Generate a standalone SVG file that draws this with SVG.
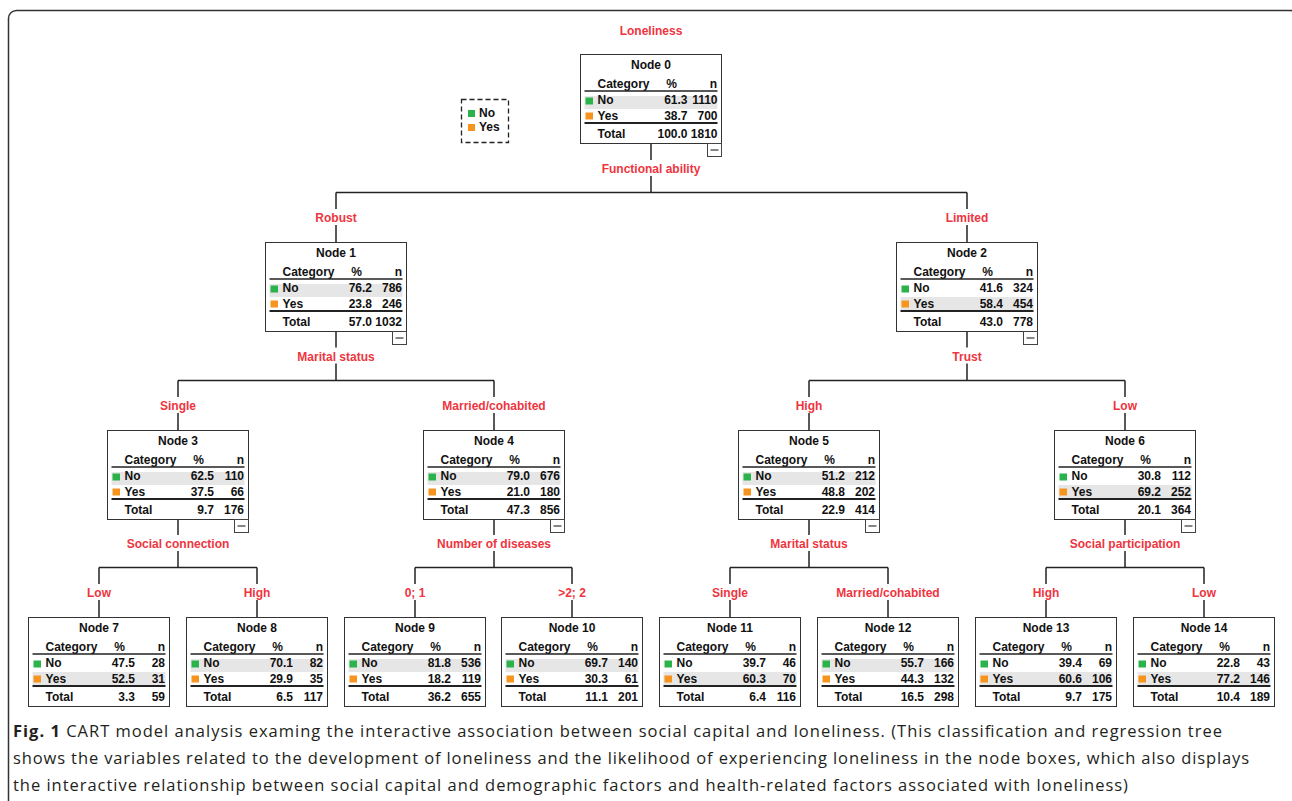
<svg xmlns="http://www.w3.org/2000/svg" width="1292" height="801" viewBox="0 0 1292 801">
<style>
text{font-family:"Liberation Sans",Arial,sans-serif;font-weight:bold;font-size:12px;fill:#111}
.lab{fill:#ee3540;text-anchor:middle}
.box{fill:#fff;stroke:#333;stroke-width:1}
.hl{fill:#e6e6e6}
.g{fill:#2bb34b}
.o{fill:#f7941d}
.hr{stroke:#222;stroke-width:1.3}
.hr2{stroke:#222;stroke-width:2}
.mb{fill:#fff;stroke:#444;stroke-width:1}
.mbl{stroke:#444;stroke-width:1.3}
.c{text-anchor:middle}
.e{text-anchor:end}
.conn line{stroke:#222;stroke-width:1.5}
.cap{font-family:"Open Sans","Noto Sans",sans-serif;font-weight:normal;font-size:16.5px;fill:#231f20}
</style>
<defs>
<g id="frame">
<rect class="box" width="141" height="89"/>
<text x="17" y="33">Category</text>
<text class="c" x="91" y="33">%</text>
<text class="e" x="136.5" y="33">n</text>
<line class="hr" x1="4" y1="36.5" x2="137" y2="36.5"/>
<line class="hr2" x1="4" y1="68.5" x2="137" y2="68.5"/>
<text x="17" y="83.5">Total</text>
</g>
<g id="minus">
<rect class="mb" x="127" y="89" width="14" height="13"/>
<line class="mbl" x1="130" y1="95.5" x2="138" y2="95.5"/>
</g>
<g id="sq">
<rect class="g" x="5" y="43" width="7.5" height="7"/>
<rect class="o" x="5" y="58" width="7.5" height="7"/>
<text x="17" y="49.5">No</text>
<text x="17" y="65.5">Yes</text>
</g>
</defs>

<rect x="8.5" y="10.5" width="1290" height="820" rx="8" fill="#fff" stroke="#333" stroke-width="1.5"/>

<g id="legend">
<rect x="461.5" y="99.5" width="47" height="43" fill="none" stroke="#222" stroke-width="1.3" stroke-dasharray="5,3"/>
<rect class="g" x="468" y="110" width="7" height="7"/>
<text x="479" y="117">No</text>
<rect class="o" x="468" y="124" width="7" height="7"/>
<text x="479" y="131">Yes</text>
</g>

<g class="conn" id="connectors">
<line x1="651" y1="143.5" x2="651" y2="160"/>
<line x1="651" y1="176" x2="651" y2="192.5"/>
<line x1="336" y1="192.5" x2="967" y2="192.5"/>
<line x1="336" y1="192.5" x2="336" y2="209"/>
<line x1="336" y1="225" x2="336" y2="242.5"/>
<line x1="967" y1="192.5" x2="967" y2="209"/>
<line x1="967" y1="225" x2="967" y2="242.5"/>

<line x1="336" y1="331.5" x2="336" y2="347.5"/>
<line x1="336" y1="363.5" x2="336" y2="380.5"/>
<line x1="178" y1="380.5" x2="494" y2="380.5"/>
<line x1="967" y1="331.5" x2="967" y2="347.5"/>
<line x1="967" y1="363.5" x2="967" y2="380.5"/>
<line x1="809" y1="380.5" x2="1125" y2="380.5"/>
<line x1="178" y1="380.5" x2="178" y2="397"/><line x1="178" y1="413" x2="178" y2="430.5"/>
<line x1="494" y1="380.5" x2="494" y2="397"/><line x1="494" y1="413" x2="494" y2="430.5"/>
<line x1="809" y1="380.5" x2="809" y2="397"/><line x1="809" y1="413" x2="809" y2="430.5"/>
<line x1="1125" y1="380.5" x2="1125" y2="397"/><line x1="1125" y1="413" x2="1125" y2="430.5"/>

<line x1="178" y1="519.5" x2="178" y2="535"/><line x1="178" y1="551" x2="178" y2="567.5"/>
<line x1="494" y1="519.5" x2="494" y2="535"/><line x1="494" y1="551" x2="494" y2="567.5"/>
<line x1="809" y1="519.5" x2="809" y2="535"/><line x1="809" y1="551" x2="809" y2="567.5"/>
<line x1="1125" y1="519.5" x2="1125" y2="535"/><line x1="1125" y1="551" x2="1125" y2="567.5"/>
<line x1="99" y1="567.5" x2="257" y2="567.5"/>
<line x1="415" y1="567.5" x2="572" y2="567.5"/>
<line x1="730" y1="567.5" x2="888" y2="567.5"/>
<line x1="1046" y1="567.5" x2="1204" y2="567.5"/>
<line x1="99" y1="567.5" x2="99" y2="584"/><line x1="99" y1="600" x2="99" y2="617.5"/>
<line x1="257" y1="567.5" x2="257" y2="584"/><line x1="257" y1="600" x2="257" y2="617.5"/>
<line x1="415" y1="567.5" x2="415" y2="584"/><line x1="415" y1="600" x2="415" y2="617.5"/>
<line x1="572" y1="567.5" x2="572" y2="584"/><line x1="572" y1="600" x2="572" y2="617.5"/>
<line x1="730" y1="567.5" x2="730" y2="584"/><line x1="730" y1="600" x2="730" y2="617.5"/>
<line x1="888" y1="567.5" x2="888" y2="584"/><line x1="888" y1="600" x2="888" y2="617.5"/>
<line x1="1046" y1="567.5" x2="1046" y2="584"/><line x1="1046" y1="600" x2="1046" y2="617.5"/>
<line x1="1204" y1="567.5" x2="1204" y2="584"/><line x1="1204" y1="600" x2="1204" y2="617.5"/>
</g>

<g id="labels">
<text class="lab" x="651" y="35">Loneliness</text>
<text class="lab" x="651" y="173">Functional ability</text>
<text class="lab" x="336" y="222">Robust</text>
<text class="lab" x="967" y="222">Limited</text>
<text class="lab" x="336" y="360.5">Marital status</text>
<text class="lab" x="967" y="360.5">Trust</text>
<text class="lab" x="178" y="410">Single</text>
<text class="lab" x="494" y="410">Married/cohabited</text>
<text class="lab" x="809" y="410">High</text>
<text class="lab" x="1125" y="410">Low</text>
<text class="lab" x="178" y="548">Social connection</text>
<text class="lab" x="494" y="548">Number of diseases</text>
<text class="lab" x="809" y="548">Marital status</text>
<text class="lab" x="1125" y="548">Social participation</text>
<text class="lab" x="99" y="597">Low</text>
<text class="lab" x="257" y="597">High</text>
<text class="lab" x="415" y="597">0; 1</text>
<text class="lab" x="572" y="597">&gt;2; 2</text>
<text class="lab" x="730" y="597">Single</text>
<text class="lab" x="888" y="597">Married/cohabited</text>
<text class="lab" x="1046" y="597">High</text>
<text class="lab" x="1204" y="597">Low</text>
</g>

<g id="node0" transform="translate(580.5,54.5)">
<use href="#frame"/><rect class="hl" x="4" y="41.5" width="133" height="13"/><use href="#sq"/><use href="#minus"/>
<text class="c" x="70.5" y="14.5">Node 0</text>
<text class="e" x="107" y="49.5">61.3</text><text class="e" x="137" y="49.5">1110</text>
<text class="e" x="107" y="65.5">38.7</text><text class="e" x="137" y="65.5">700</text>
<text class="e" x="107" y="83.5">100.0</text><text class="e" x="137" y="83.5">1810</text>
</g>

<g id="node1" transform="translate(265.5,242.5)">
<use href="#frame"/><rect class="hl" x="4" y="41.5" width="133" height="13"/><use href="#sq"/><use href="#minus"/>
<text class="c" x="70.5" y="14.5">Node 1</text>
<text class="e" x="106.5" y="49.5">76.2</text><text class="e" x="136.5" y="49.5">786</text>
<text class="e" x="106.5" y="65.5">23.8</text><text class="e" x="136.5" y="65.5">246</text>
<text class="e" x="106.5" y="83.5">57.0</text><text class="e" x="136.5" y="83.5">1032</text>
</g>

<g id="node2" transform="translate(896.5,242.5)">
<use href="#frame"/><rect class="hl" x="4" y="54.5" width="133" height="13"/><use href="#sq"/><use href="#minus"/>
<text class="c" x="70.5" y="14.5">Node 2</text>
<text class="e" x="106.5" y="49.5">41.6</text><text class="e" x="136.5" y="49.5">324</text>
<text class="e" x="106.5" y="65.5">58.4</text><text class="e" x="136.5" y="65.5">454</text>
<text class="e" x="106.5" y="83.5">43.0</text><text class="e" x="136.5" y="83.5">778</text>
</g>

<g id="node3" transform="translate(107.5,430.5)">
<use href="#frame"/><rect class="hl" x="4" y="41.5" width="133" height="13"/><use href="#sq"/><use href="#minus"/>
<text class="c" x="70.5" y="14.5">Node 3</text>
<text class="e" x="106.5" y="49.5">62.5</text><text class="e" x="136.5" y="49.5">110</text>
<text class="e" x="106.5" y="65.5">37.5</text><text class="e" x="136.5" y="65.5">66</text>
<text class="e" x="106.5" y="83.5">9.7</text><text class="e" x="136.5" y="83.5">176</text>
</g>

<g id="node4" transform="translate(423.5,430.5)">
<use href="#frame"/><rect class="hl" x="4" y="41.5" width="133" height="13"/><use href="#sq"/><use href="#minus"/>
<text class="c" x="70.5" y="14.5">Node 4</text>
<text class="e" x="106.5" y="49.5">79.0</text><text class="e" x="136.5" y="49.5">676</text>
<text class="e" x="106.5" y="65.5">21.0</text><text class="e" x="136.5" y="65.5">180</text>
<text class="e" x="106.5" y="83.5">47.3</text><text class="e" x="136.5" y="83.5">856</text>
</g>

<g id="node5" transform="translate(738.5,430.5)">
<use href="#frame"/><rect class="hl" x="4" y="41.5" width="133" height="13"/><use href="#sq"/><use href="#minus"/>
<text class="c" x="70.5" y="14.5">Node 5</text>
<text class="e" x="106.5" y="49.5">51.2</text><text class="e" x="136.5" y="49.5">212</text>
<text class="e" x="106.5" y="65.5">48.8</text><text class="e" x="136.5" y="65.5">202</text>
<text class="e" x="106.5" y="83.5">22.9</text><text class="e" x="136.5" y="83.5">414</text>
</g>

<g id="node6" transform="translate(1054.5,430.5)">
<use href="#frame"/><rect class="hl" x="4" y="54.5" width="133" height="13"/><use href="#sq"/><use href="#minus"/>
<text class="c" x="70.5" y="14.5">Node 6</text>
<text class="e" x="106.5" y="49.5">30.8</text><text class="e" x="136.5" y="49.5">112</text>
<text class="e" x="106.5" y="65.5">69.2</text><text class="e" x="136.5" y="65.5">252</text>
<text class="e" x="106.5" y="83.5">20.1</text><text class="e" x="136.5" y="83.5">364</text>
</g>

<g id="node7" transform="translate(28.5,617.5)">
<use href="#frame"/><rect class="hl" x="4" y="54.5" width="133" height="13"/><use href="#sq"/>
<text class="c" x="70.5" y="14.5">Node 7</text>
<text class="e" x="106.5" y="49.5">47.5</text><text class="e" x="136.5" y="49.5">28</text>
<text class="e" x="106.5" y="65.5">52.5</text><text class="e" x="136.5" y="65.5">31</text>
<text class="e" x="106.5" y="83.5">3.3</text><text class="e" x="136.5" y="83.5">59</text>
</g>

<g id="node8" transform="translate(186.5,617.5)">
<use href="#frame"/><rect class="hl" x="4" y="41.5" width="133" height="13"/><use href="#sq"/>
<text class="c" x="70.5" y="14.5">Node 8</text>
<text class="e" x="106.5" y="49.5">70.1</text><text class="e" x="136.5" y="49.5">82</text>
<text class="e" x="106.5" y="65.5">29.9</text><text class="e" x="136.5" y="65.5">35</text>
<text class="e" x="106.5" y="83.5">6.5</text><text class="e" x="136.5" y="83.5">117</text>
</g>

<g id="node9" transform="translate(344.5,617.5)">
<use href="#frame"/><rect class="hl" x="4" y="41.5" width="133" height="13"/><use href="#sq"/>
<text class="c" x="70.5" y="14.5">Node 9</text>
<text class="e" x="106.5" y="49.5">81.8</text><text class="e" x="136.5" y="49.5">536</text>
<text class="e" x="106.5" y="65.5">18.2</text><text class="e" x="136.5" y="65.5">119</text>
<text class="e" x="106.5" y="83.5">36.2</text><text class="e" x="136.5" y="83.5">655</text>
</g>

<g id="node10" transform="translate(501.5,617.5)">
<use href="#frame"/><rect class="hl" x="4" y="41.5" width="133" height="13"/><use href="#sq"/>
<text class="c" x="70.5" y="14.5">Node 10</text>
<text class="e" x="106.5" y="49.5">69.7</text><text class="e" x="136.5" y="49.5">140</text>
<text class="e" x="106.5" y="65.5">30.3</text><text class="e" x="136.5" y="65.5">61</text>
<text class="e" x="106.5" y="83.5">11.1</text><text class="e" x="136.5" y="83.5">201</text>
</g>

<g id="node11" transform="translate(659.5,617.5)">
<use href="#frame"/><rect class="hl" x="4" y="54.5" width="133" height="13"/><use href="#sq"/>
<text class="c" x="70.5" y="14.5">Node 11</text>
<text class="e" x="106.5" y="49.5">39.7</text><text class="e" x="136.5" y="49.5">46</text>
<text class="e" x="106.5" y="65.5">60.3</text><text class="e" x="136.5" y="65.5">70</text>
<text class="e" x="106.5" y="83.5">6.4</text><text class="e" x="136.5" y="83.5">116</text>
</g>

<g id="node12" transform="translate(817.5,617.5)">
<use href="#frame"/><rect class="hl" x="4" y="41.5" width="133" height="13"/><use href="#sq"/>
<text class="c" x="70.5" y="14.5">Node 12</text>
<text class="e" x="106.5" y="49.5">55.7</text><text class="e" x="136.5" y="49.5">166</text>
<text class="e" x="106.5" y="65.5">44.3</text><text class="e" x="136.5" y="65.5">132</text>
<text class="e" x="106.5" y="83.5">16.5</text><text class="e" x="136.5" y="83.5">298</text>
</g>

<g id="node13" transform="translate(975.5,617.5)">
<use href="#frame"/><rect class="hl" x="4" y="54.5" width="133" height="13"/><use href="#sq"/>
<text class="c" x="70.5" y="14.5">Node 13</text>
<text class="e" x="106.5" y="49.5">39.4</text><text class="e" x="136.5" y="49.5">69</text>
<text class="e" x="106.5" y="65.5">60.6</text><text class="e" x="136.5" y="65.5">106</text>
<text class="e" x="106.5" y="83.5">9.7</text><text class="e" x="136.5" y="83.5">175</text>
</g>

<g id="node14" transform="translate(1133.5,617.5)">
<use href="#frame"/><rect class="hl" x="4" y="54.5" width="133" height="13"/><use href="#sq"/>
<text class="c" x="70.5" y="14.5">Node 14</text>
<text class="e" x="106.5" y="49.5">22.8</text><text class="e" x="136.5" y="49.5">43</text>
<text class="e" x="106.5" y="65.5">77.2</text><text class="e" x="136.5" y="65.5">146</text>
<text class="e" x="106.5" y="83.5">10.4</text><text class="e" x="136.5" y="83.5">189</text>
</g>

<g id="caption">
<text class="cap" x="13" y="737" textLength="1209" lengthAdjust="spacing"><tspan font-weight="bold">Fig. 1</tspan> CART model analysis examing the interactive association between social capital and loneliness. (This classification and regression tree</text>
<text class="cap" x="13" y="764" textLength="1236" lengthAdjust="spacing">shows the variables related to the development of loneliness and the likelihood of experiencing loneliness in the node boxes, which also displays</text>
<text class="cap" x="13" y="791" textLength="1115" lengthAdjust="spacing">the interactive relationship between social capital and demographic factors and health-related factors associated with loneliness)</text>
</g>
</svg>
